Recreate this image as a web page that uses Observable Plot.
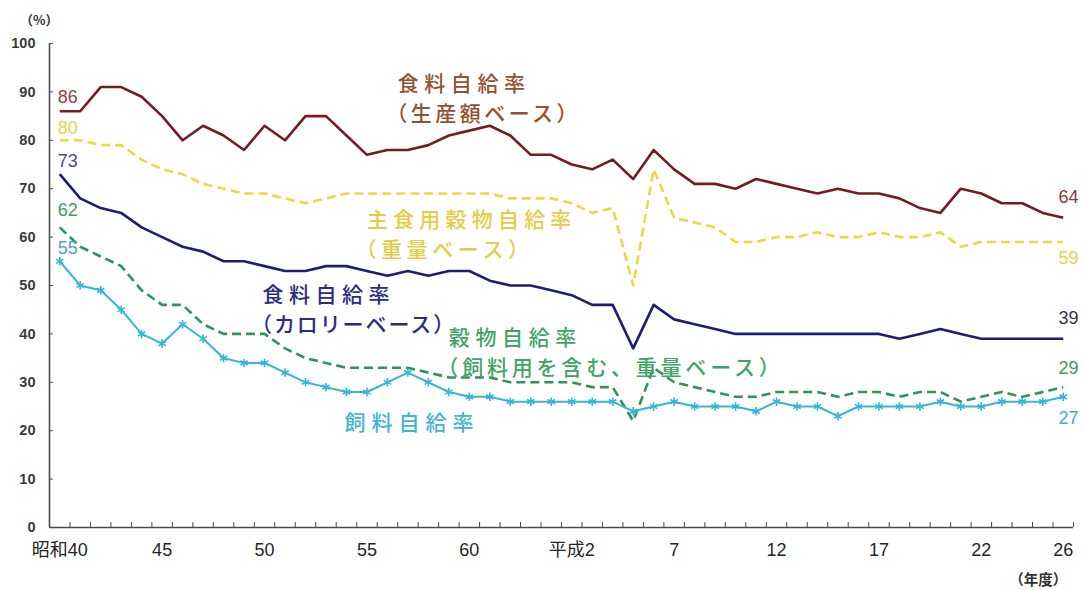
<!DOCTYPE html>
<html lang="ja">
<head>
<meta charset="utf-8">
<script src="https://cdn.jsdelivr.net/npm/d3@7"></script>
<script src="https://cdn.jsdelivr.net/npm/@observablehq/plot@0.6"></script>
<style>
  html, body { margin: 0; padding: 0; background: #ffffff; }
  #chart svg { display: block; }
</style>
</head>
<body>
<div id="chart"></div>
<script>
// 年度（昭和40年度＝1965 〜 平成26年度＝2014）
const years = [
  1965, 1966, 1967, 1968, 1969, 1970, 1971, 1972, 1973, 1974,
  1975, 1976, 1977, 1978, 1979, 1980, 1981, 1982, 1983, 1984,
  1985, 1986, 1987, 1988, 1989, 1990, 1991, 1992, 1993, 1994,
  1995, 1996, 1997, 1998, 1999, 2000, 2001, 2002, 2003, 2004,
  2005, 2006, 2007, 2008, 2009, 2010, 2011, 2012, 2013, 2014
];

// 食料自給率（生産額ベース）
const productionValueRate = [
  86, 86, 91, 91, 89, 85, 80, 83, 81, 78,
  83, 80, 85, 85, 81, 77, 78, 78, 79, 81,
  82, 83, 81, 77, 77, 75, 74, 76, 72, 78,
  74, 71, 71, 70, 72, 71, 70, 69, 70, 69,
  69, 68, 66, 65, 70, 69, 67, 67, 65, 64
];

// 主食用穀物自給率（重量ベース）
const stapleGrainRate = [
  80, 80, 79, 79, 76, 74, 73, 71, 70, 69,
  69, 68, 67, 68, 69, 69, 69, 69, 69, 69,
  69, 69, 68, 68, 68, 67, 65, 66, 50, 74,
  64, 63, 62, 59, 59, 60, 60, 61, 60, 60,
  61, 60, 60, 61, 58, 59, 59, 59, 59, 59
];

// 食料自給率（カロリーベース）
const calorieRate = [
  73, 68, 66, 65, 62, 60, 58, 57, 55, 55,
  54, 53, 53, 54, 54, 53, 52, 53, 52, 53,
  53, 51, 50, 50, 49, 48, 46, 46, 37, 46,
  43, 42, 41, 40, 40, 40, 40, 40, 40, 40,
  40, 39, 40, 41, 40, 39, 39, 39, 39, 39
];

// 穀物自給率（飼料用を含む、重量ベース）
const grainRate = [
  62, 58, 56, 54, 49, 46, 46, 42, 40, 40,
  40, 37, 35, 34, 33, 33, 33, 33, 32, 31,
  31, 31, 30, 30, 30, 30, 29, 29, 22, 33,
  30, 29, 28, 27, 27, 28, 28, 28, 27, 28,
  28, 27, 28, 28, 26, 27, 28, 27, 28, 29
];

// 飼料自給率
const feedRate = [
  55, 50, 49, 45, 40, 38, 42, 39, 35, 34,
  34, 32, 30, 29, 28, 28, 30, 32, 30, 28,
  27, 27, 26, 26, 26, 26, 26, 26, 24, 25,
  26, 25, 25, 25, 24, 26, 25, 25, 23, 25,
  25, 25, 25, 26, 25, 25, 26, 26, 26, 27
];

// 軸の目盛
const yTicks = [0, 10, 20, 30, 40, 50, 60, 70, 80, 90, 100];
const xLabelYears = [1965, 1970, 1975, 1980, 1985, 1990, 1995, 2000, 2005, 2010, 2014];
const xLabelTexts = ["昭和40", "45", "50", "55", "60", "平成2", "7", "12", "17", "22", "26"];

// 系列ごとの線の書式
const series = [
  {key: "production", values: productionValueRate, color: "#741c22", width: 2.6, dash: null},
  {key: "staple",     values: stapleGrainRate,     color: "#efd743", width: 2.6, dash: "9,5"},
  {key: "calorie",    values: calorieRate,         color: "#1e1e6e", width: 2.6, dash: null},
  {key: "grain",      values: grainRate,           color: "#2f9458", width: 2.6, dash: "9,5"},
  {key: "feed",       values: feedRate,            color: "#35b5d9", width: 2.0, dash: null}
];

const rowsOf = (values) => years.map((year, i) => ({year, value: values[i]}));

// 系列名の注記（年度・値の座標に配置、行ごとの字間）
const seriesLabels = [
  {x: 1981.5, y: 89.05, lines: ["食料自給率", "（生産額ベース）"], fill: "#94502f", spacing: [5.6, 3.5]},
  {x: 1980.0, y: 61.05, lines: ["主食用穀物自給率", "（重量ベース）"], fill: "#e6cc45", spacing: [5.2, 4.6]},
  {x: 1974.9, y: 45.45, lines: ["食料自給率", "（カロリーベース）"], fill: "#2c2c7e", spacing: [5.5, 1.9]},
  {x: 1984.0, y: 36.67, lines: ["穀物自給率", "（飼料用を含む、重量ベース）"], fill: "#3fa565", spacing: [5.6, 3.8]},
  {x: 1978.9, y: 22.1, lines: ["飼料自給率"], fill: "#45b2d2", spacing: [6.0]}
];

// 始点・終点の値ラベル
const startLabels = [
  {y: 88.8, text: String(productionValueRate[0]), fill: "#a0403f"},
  {y: 82.4, text: String(stapleGrainRate[0]), fill: "#e8cf4a"},
  {y: 75.6, text: String(calorieRate[0]), fill: "#48489a"},
  {y: 65.5, text: String(grainRate[0]), fill: "#3d9a66"},
  {y: 57.6, text: String(feedRate[0]), fill: "#47a9c9"}
];
const endLabels = [
  {y: 68.2, text: String(productionValueRate.at(-1)), fill: "#8a3a3a"},
  {y: 55.6, text: String(stapleGrainRate.at(-1)), fill: "#e8cf4a"},
  {y: 43.2, text: String(calorieRate.at(-1)), fill: "#33334d"},
  {y: 32.9, text: String(grainRate.at(-1)), fill: "#3b9d60"},
  {y: 22.5, text: String(feedRate.at(-1)), fill: "#4aa8c8"}
];

const xStart = years[0] - 0.5;
const xEnd = years.at(-1) + 0.5;
const categoryEdges = years.map((y) => y + 0.5);
const axisColor = "#4a4a4a";

const chart = Plot.plot({
  width: 1083,
  height: 590,
  marginLeft: 49,
  marginRight: 10,
  marginTop: 43,
  marginBottom: 63,
  style: {fontFamily: "'Noto Sans CJK JP', 'Noto Sans', sans-serif", background: "#ffffff"},
  x: {domain: [xStart, xEnd]},
  y: {domain: [0, 100]},
  marks: [
    // 軸線
    Plot.ruleX([xStart], {y1: 0, y2: 100, stroke: axisColor, strokeWidth: 1.6}),
    Plot.ruleY([0], {x1: xStart, x2: xEnd, stroke: axisColor, strokeWidth: 1.6}),
    // 目盛（内向き）
    Plot.axisY({ticks: yTicks, tickSize: -4, tickFormat: () => "", stroke: axisColor, label: null}),
    Plot.axisY({ticks: yTicks, tickSize: 0, tickPadding: 14, fontSize: 14.5, fontWeight: "bold", fill: "#3a3a3a", label: null,
      fontFamily: "'Liberation Sans', Arial, sans-serif"}),
    Plot.axisX({ticks: categoryEdges, tickSize: -5, tickFormat: () => "", stroke: axisColor, label: null}),
    Plot.axisX({ticks: xLabelYears, tickSize: 0, tickPadding: 16, fontSize: 18, fill: "#262626", label: null,
      fontFamily: "'Liberation Sans', 'Noto Sans CJK JP', sans-serif",
      tickFormat: (d) => xLabelTexts[xLabelYears.indexOf(d)]}),
    // 系列の線
    ...series.map((s) => Plot.line(rowsOf(s.values), {
      x: "year", y: "value", stroke: s.color, strokeWidth: s.width,
      strokeDasharray: s.dash, strokeLinejoin: "round", strokeLinecap: "butt"
    })),
    // 飼料自給率のマーカー
    Plot.dot(rowsOf(feedRate), {x: "year", y: "value", symbol: "asterisk", r: 4, stroke: "#35b5d9", strokeWidth: 1.6}),
    // 系列名
    Plot.text(seriesLabels, {x: "x", y: "y", text: (d) => d.lines.join("\n"), fill: "fill", fontSize: 21, fontWeight: 500,
      lineHeight: 1.45, textAnchor: "start", lineAnchor: "middle"}),
    // 値ラベル
    Plot.text(startLabels, {x: xStart + 0.4, y: "y", text: "text", fill: "fill", fontSize: 18,
      textAnchor: "start", lineAnchor: "middle", fontFamily: "'Liberation Sans', Arial, sans-serif"}),
    Plot.text(endLabels, {x: xEnd + 0.25, y: "y", text: "text", fill: "fill", fontSize: 18,
      textAnchor: "end", lineAnchor: "middle", fontFamily: "'Liberation Sans', Arial, sans-serif"}),
    // 単位
    Plot.text(["（%）"], {x: xStart - 0.5, y: 104.6, text: (d) => d, fontSize: 13, fontWeight: "bold", fill: "#333",
      textAnchor: "middle", lineAnchor: "middle"}),
    Plot.text(["（年度）"], {x: xEnd - 0.3, y: -10.9, text: (d) => d, fontSize: 14.5, fontWeight: "bold", fill: "#333",
      textAnchor: "end", lineAnchor: "middle"})
  ]
});

// 系列名の字間と、括弧で始まる2行目の位置を整える
d3.select(chart).selectAll("text").each(function () {
  const label = seriesLabels.find((l) => l.lines.join("") === this.textContent);
  if (!label) return;
  const spans = this.querySelectorAll("tspan");
  if (spans.length === 0) {
    this.setAttribute("letter-spacing", label.spacing[0]);
    return;
  }
  spans.forEach((span, i) => {
    span.setAttribute("letter-spacing", label.spacing[i]);
    if (i > 0) span.setAttribute("x", -11.5);
  });
});

document.getElementById("chart").append(chart);
</script>
</body>
</html>
